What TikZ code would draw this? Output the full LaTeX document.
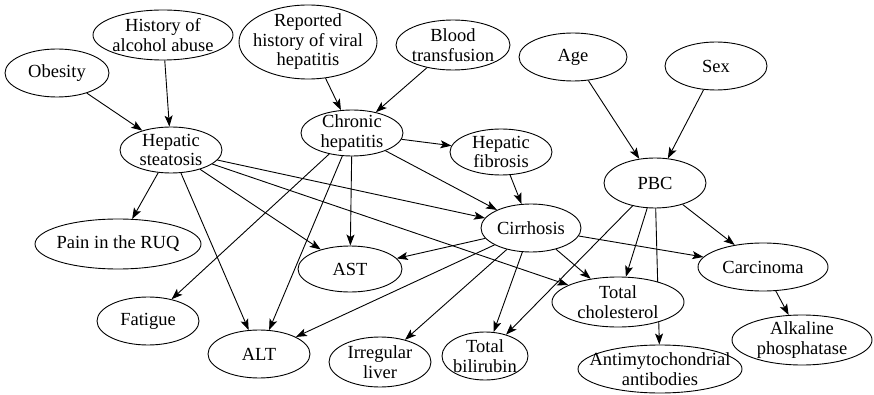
\documentclass[tikz,border=0pt]{standalone}
\usepackage{fontspec}
\setmainfont{Liberation Serif}
\usetikzlibrary{shapes.geometric, arrows.meta, backgrounds}

\begin{document}
\begin{tikzpicture}[x=1pt, y=-1pt,
    var/.style={ellipse, draw=black, fill=white, line width=0.9pt, inner sep=0pt},
    lbl/.style={align=center, inner sep=0pt, font=\fontsize{18.5}{19.5}\selectfont},
    edge/.style={-{Stealth[length=11pt, width=8pt, inset=2.5pt]}, line width=0.9pt}]
    \useasboundingbox (0,0) rectangle (874,395);

    % risk factors
    \node[var, minimum width=104, minimum height=48, label={[lbl]center:{Obesity}}] (obesity) at (57,73) {};
    \node[var, minimum width=140, minimum height=50, label={[lbl]center:{History of\\alcohol abuse}}] (alcohol) at (163,35) {};
    \node[var, minimum width=138, minimum height=74, label={[lbl]center:{Reported\\history of viral\\hepatitis}}] (viral) at (308,42) {};
    \node[var, minimum width=114, minimum height=50, label={[lbl]center:{Blood\\transfusion}}] (blood) at (453,45) {};
    \node[var, minimum width=108, minimum height=48, label={[lbl]center:{Age}}] (age) at (573,57) {};
    \node[var, minimum width=102, minimum height=48, label={[lbl]center:{Sex}}] (sex) at (716,66) {};

    % diseases
    \node[var, minimum width=102, minimum height=46, label={[lbl]center:{Hepatic\\steatosis}}] (steat) at (171,150) {};
    \node[var, minimum width=102, minimum height=46, label={[lbl]center:{Chronic\\hepatitis}}] (chronic) at (352,133) {};
    \node[var, minimum width=102, minimum height=46, label={[lbl]center:{Hepatic\\fibrosis}}] (fibrosis) at (501,152) {};
    \node[var, minimum width=102, minimum height=50, label={[lbl]center:{PBC}}] (pbc) at (655,183) {};
    \node[var, minimum width=100, minimum height=48, label={[lbl]center:{Cirrhosis}}] (cirr) at (531,228) {};
    \node[var, minimum width=130, minimum height=48, label={[lbl]center:{Carcinoma}}] (carc) at (763,267) {};

    % symptoms and tests
    \node[var, minimum width=166, minimum height=50, label={[lbl]center:{Pain in the RUQ}}] (pain) at (118,244) {};
    \node[var, minimum width=104, minimum height=46, label={[lbl]center:{AST}}] (ast) at (350,269) {};
    \node[var, minimum width=132, minimum height=50, label={[lbl]center:{Total\\cholesterol}}] (chol) at (618,302) {};
    \node[var, minimum width=102, minimum height=48, label={[lbl]center:{Fatigue}}] (fatigue) at (148,321) {};
    \node[var, minimum width=102, minimum height=48, label={[lbl]center:{ALT}}] (alt) at (259,354) {};
    \node[var, minimum width=102, minimum height=50, label={[lbl]center:{Irregular\\liver}}] (irreg) at (380,362) {};
    \node[var, minimum width=86, minimum height=48, label={[lbl]center:{Total\\bilirubin}}] (bili) at (485,356) {};
    \node[var, minimum width=164, minimum height=48, label={[lbl]center:{Antimytochondrial\\antibodies}}] (anti) at (660,369) {};
    \node[var, minimum width=140, minimum height=50, label={[lbl]center:{Alkaline\\phosphatase}}] (alk) at (802,340) {};

    \begin{scope}[on background layer]
        \foreach \a/\b in {obesity/steat, alcohol/steat, viral/chronic, blood/chronic, age/pbc, sex/pbc,
                steat/pain, steat/alt, steat/ast, steat/cirr, steat/chol,
                chronic/fibrosis, chronic/fatigue, chronic/alt, chronic/ast, chronic/cirr, fibrosis/cirr,
                cirr/ast, cirr/alt, cirr/irreg, cirr/bili, cirr/chol, cirr/carc,
                pbc/bili, pbc/chol, pbc/anti, pbc/carc, carc/alk}
            \draw[edge] (\a) -- (\b);
    \end{scope}
\end{tikzpicture}
\end{document}
